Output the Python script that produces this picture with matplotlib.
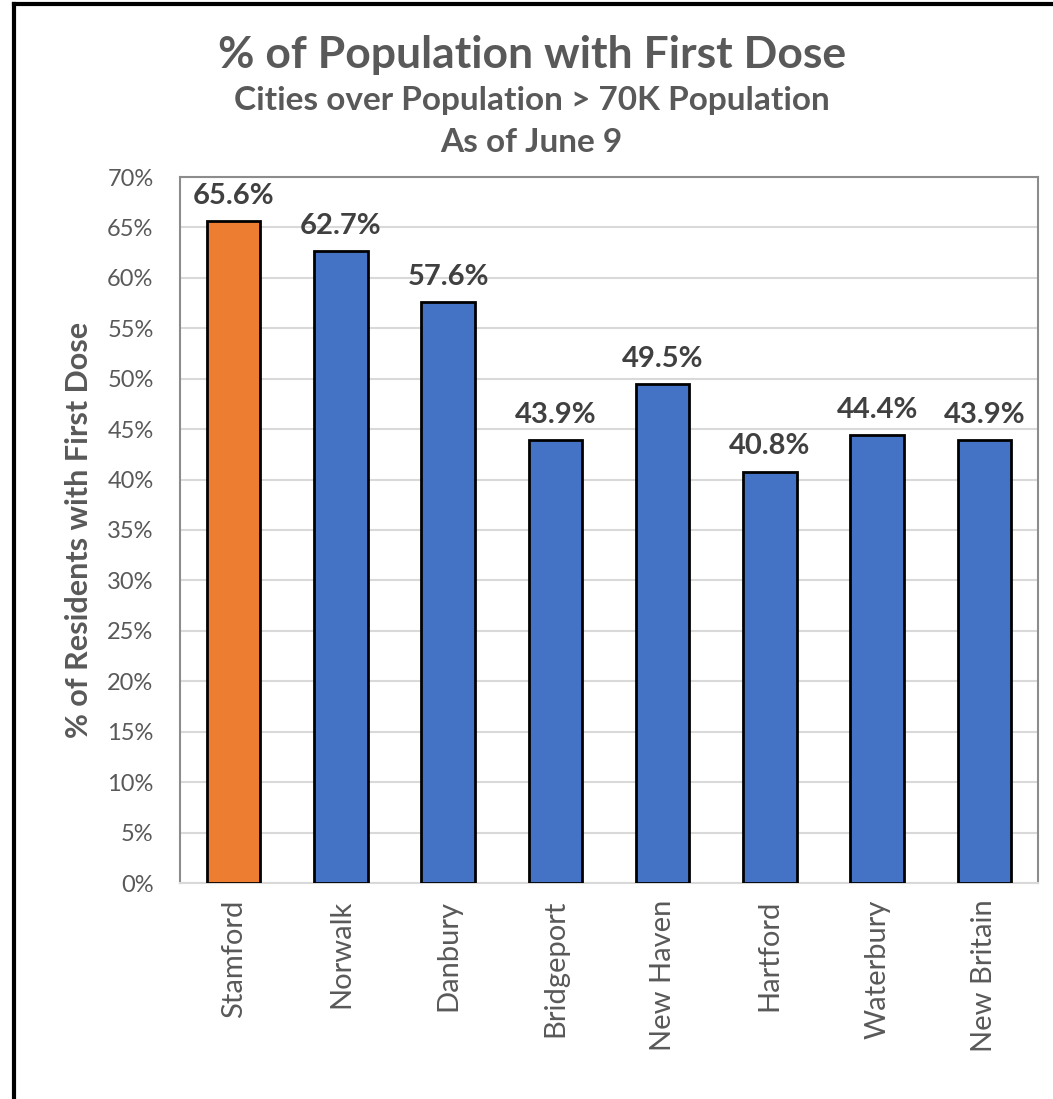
import numpy as np
import matplotlib.pyplot as plt
from matplotlib.lines import Line2D

cities = ['Stamford', 'Norwalk', 'Danbury', 'Bridgeport', 'New Haven',
          'Hartford', 'Waterbury', 'New Britain']
first_dose = [65.6, 62.7, 57.6, 43.9, 49.5, 40.8, 44.4, 43.9]
yticks = [0, 5, 10, 15, 20, 25, 30, 35, 40, 45, 50, 55, 60, 65, 70]

plt.rcParams['font.family'] = ['Lato', 'DejaVu Sans']
grey = '#595959'

fig = plt.figure(figsize=(10.53, 10.99), dpi=100)
ax = fig.add_axes([180/1053, 1 - 883/1099, 858/1053, 706/1099])

colors = ['#ed7d31'] + ['#4472c4'] * (len(cities) - 1)
x = np.arange(len(cities))
bars = ax.bar(x, first_dose, width=0.5, color=colors, edgecolor='black',
              linewidth=2, zorder=3)
for b, v in zip(bars, first_dose):
    ax.text(b.get_x() + b.get_width() / 2, v + 1.2, f'{v:.1f}%',
            ha='center', va='bottom', fontsize=21, fontweight='bold',
            color='#404040')

ax.set_xlim(-0.5, len(cities) - 0.5)
ax.set_ylim(0, 70)
ax.set_yticks(yticks)
ax.set_yticklabels([f'{t}%' for t in yticks], fontsize=17, color=grey)
ax.set_xticks(x)
ax.set_xticklabels(cities, rotation=90, fontsize=21, color=grey)
ax.tick_params(axis='both', length=0)
ax.tick_params(axis='y', pad=19)
ax.tick_params(axis='x', pad=12)
ax.yaxis.grid(True, color='#d9d9d9', linewidth=1.5, zorder=0)
for s in ['top', 'left', 'right']:
    ax.spines[s].set_color('#8c8c8c')
    ax.spines[s].set_linewidth(1.5)
ax.spines['bottom'].set_color('#d9d9d9')
ax.spines['bottom'].set_linewidth(1.5)
ax.set_ylabel('% of Residents with First Dose', fontsize=22,
              fontweight='bold', color=grey, labelpad=10)

fig.text(0.505, 1 - 55/1099, '% of Population with First Dose', ha='center',
         va='center', fontsize=32, fontweight='bold', color=grey)
fig.text(0.505, 1 - 101/1099, 'Cities over Population > 70K Population',
         ha='center', va='center', fontsize=24, fontweight='bold', color=grey)
fig.text(0.505, 1 - 142/1099, 'As of June 9', ha='center', va='center',
         fontsize=24, fontweight='bold', color=grey)

# outer frame (left and top edges visible)
fig.add_artist(Line2D([14/1053, 14/1053], [0, 1 - 4/1099], color='black',
                      linewidth=3, transform=fig.transFigure))
fig.add_artist(Line2D([14/1053, 1], [1 - 4/1099, 1 - 4/1099], color='black',
                      linewidth=3, transform=fig.transFigure))

fig.savefig('out.png', dpi=100)
